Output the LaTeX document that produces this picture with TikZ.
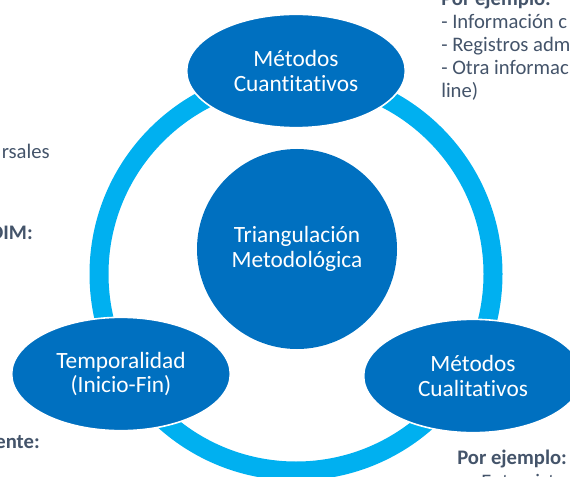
\documentclass[tikz,border=0pt]{standalone}
\usepackage{fontspec}
\setmainfont{Carlito}[Ligatures=NoCommon]
\usetikzlibrary{shapes, positioning}
\definecolor{azulosc}{HTML}{0070C0}
\definecolor{azulclaro}{HTML}{00B0F0}
\definecolor{gristxt}{HTML}{44546A}

\begin{document}
\begin{tikzpicture}[
			x=0.75pt, y=-0.75pt,
			nucleo/.style={circle, fill=azulosc, minimum size=150pt, inner sep=0pt, align=center, text=white, font=\fontsize{17.5}{19}\selectfont},
			metodo/.style={ellipse, fill=azulosc, draw=white, line width=1.2pt, minimum width=164pt, minimum height=85pt, inner sep=0pt, align=center, text=white, font=\fontsize{17.5}{18.5}\selectfont},
			anillo/.style={draw=azulclaro, line width=14.25pt},
			nota/.style={inner sep=0pt, align=left, text=gristxt, font=\fontsize{15.5}{17.25}\selectfont}
			]
			\useasboundingbox (0,0) rectangle (570,477);
			\clip (0,0) rectangle (570,477);
			
			% ring behind everything
			\coordinate (eje) at (296,274);
			\draw[anillo] (eje) circle [radius=147.75pt];
			
			\node[nucleo] (centro) at (297,249) {Triangulación\\Metodológica};
			\node[metodo] (cuanti) at (296,71) {Métodos\\Cuantitativos};
			\node[metodo] (tempo) at (121,374) {Temporalidad\\(Inicio-Fin)};
			\node[metodo] (cuali) at (473,376) {Métodos\\Cualitativos};
			
			% side notes (cut by the page edge)
			\node[nota, anchor=north west] (ejarriba) at (441,-9) {\textbf{Por ejemplo:}\\- Información c\\- Registros adm\\- Otra informac\\line)};
			\node[nota, anchor=base east] (izq1) at (50,159) {rsales};
			\node[nota, anchor=base east] (izq2) at (33,239) {\textbf{DIM:}};
			\node[nota, anchor=base east] (izq3) at (40,448) {\textbf{ente:}};
			\node[nota, anchor=base west] (ejabajo) at (457,464) {\textbf{Por ejemplo:}};
			\node[nota, anchor=base west] (ejabajo2) at (470,488) {- Entrevista};
		\end{tikzpicture}
\end{document}
